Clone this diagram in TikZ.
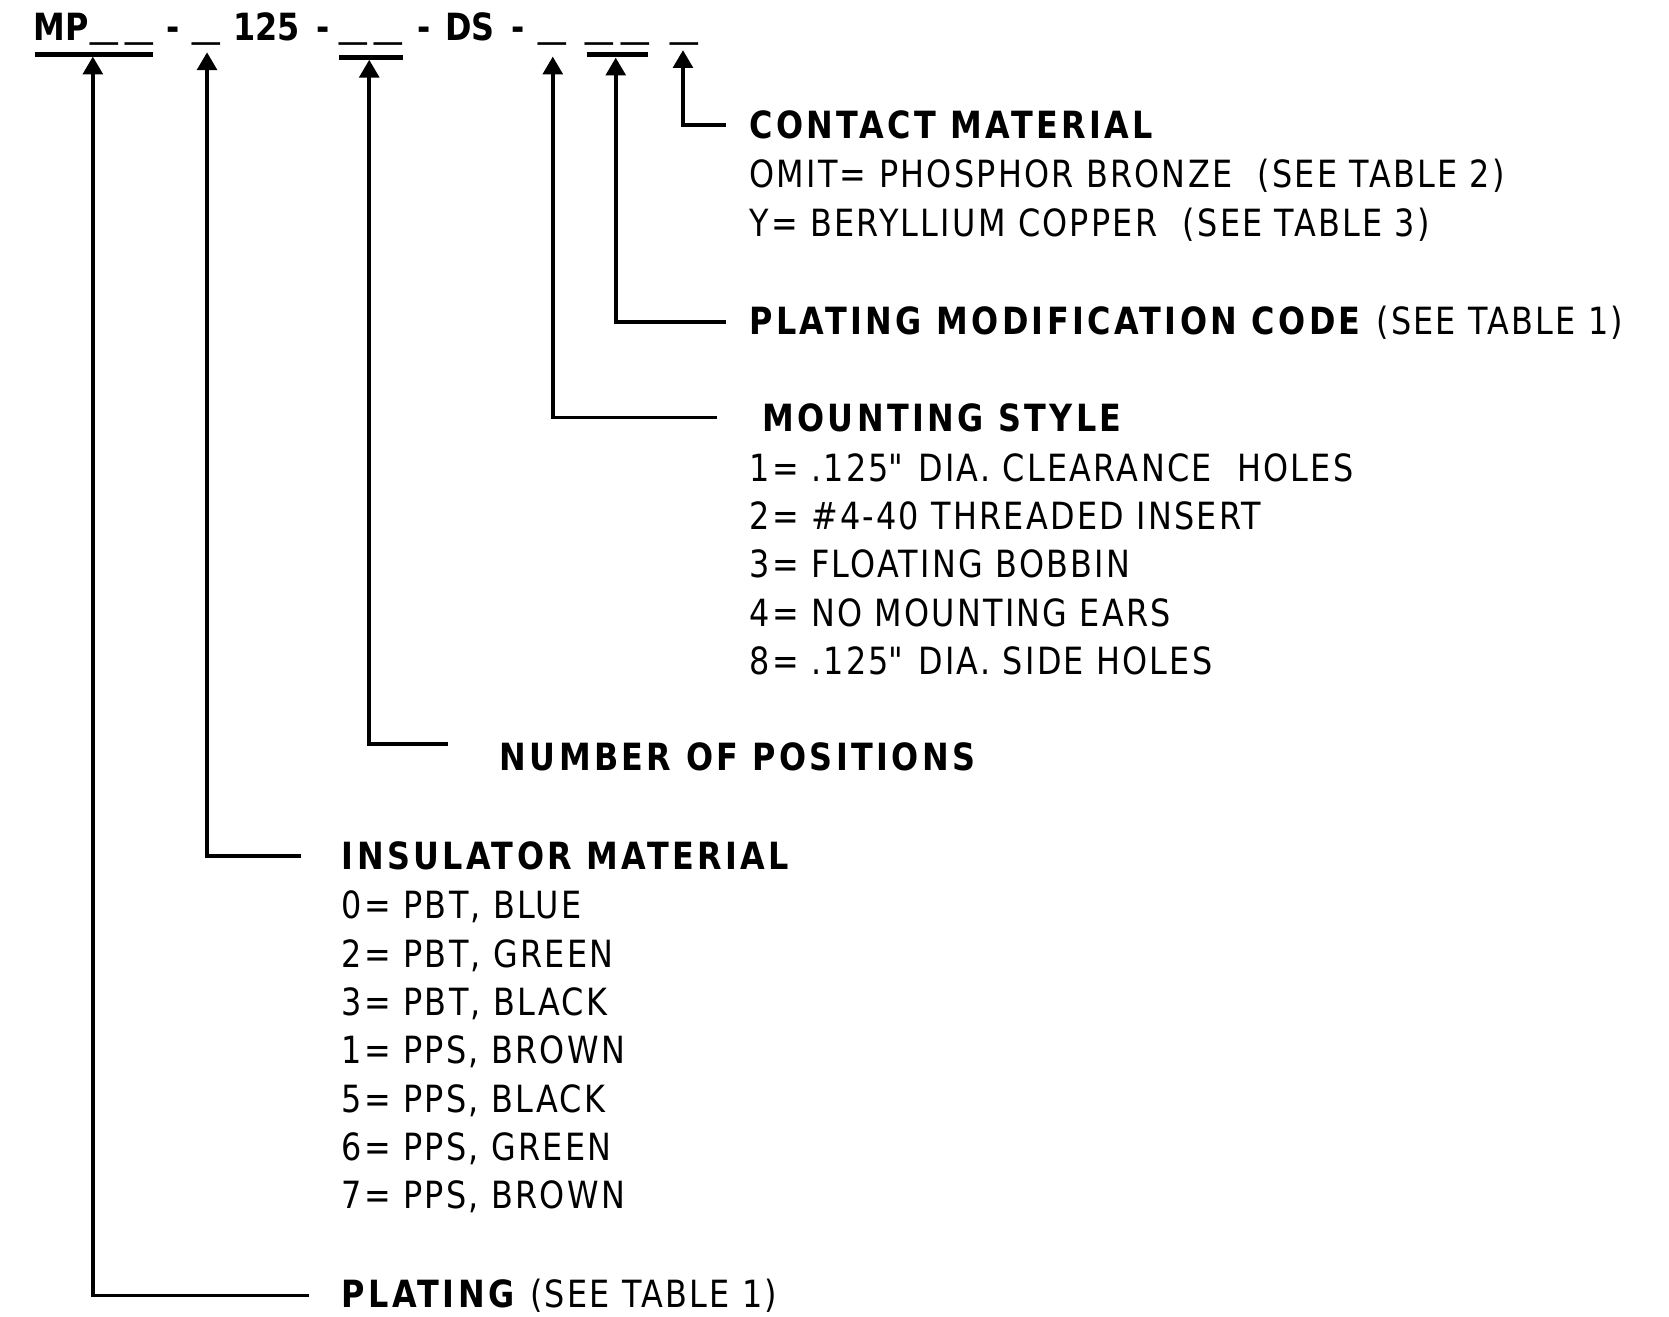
\documentclass[tikz,border=0pt]{standalone}
\usepackage{fontspec}
\setmainfont{DejaVu Sans}[FakeStretch=0.85, LetterSpace=6, BoldFeatures={LetterSpace=9}]
\newfontfamily\codefont{DejaVu Sans}[FakeStretch=0.85]
\usetikzlibrary{arrows.meta}

\begin{document}
\begin{tikzpicture}[x=0.02cm, y=-0.02cm,
    txt/.style={anchor=base west, inner sep=0pt, font=\fontsize{20}{26}\selectfont},
    head/.style={txt, font=\fontsize{20}{26}\selectfont\bfseries},
    code/.style={txt, font=\fontsize{20}{26}\selectfont\codefont\bfseries},
    blank/.style={txt, font=\fontsize{20}{26}\selectfont\codefont},
    lead/.style={-{Triangle[width=10.5pt,length=9.5pt]}, line width=2pt},
    bar/.style={line width=2.4pt}]
  \useasboundingbox (0,0) rectangle (1564,1234);

  % part number
  \newcommand\blankmark{\raisebox{2pt}{\scalebox{1.73}[1]{\_}}}
  \node[code] (CodeMP) at (31,38) {MP};
  \node[blank] (CodeU1) at (84,38) {\blankmark};
  \node[blank] (CodeU2) at (117,38) {\blankmark};
  \node[code] (CodeD1) at (156,38) {-};
  \node[blank] (CodeU3) at (180,38) {\blankmark};
  \node[code] (Code125) at (218,38) {125};
  \node[code] (CodeD2) at (296,38) {-};
  \node[blank] (CodeU4) at (318,38) {\blankmark};
  \node[blank] (CodeU5) at (351,38) {\blankmark};
  \node[code] (CodeD3) at (391,38) {-};
  \node[code] (CodeDS) at (417,38) {DS};
  \node[code] (CodeD4) at (479,38) {-};
  \node[blank] (CodeU6) at (504,38) {\blankmark};
  \node[blank] (CodeU7) at (548,38) {\blankmark};
  \node[blank] (CodeU8) at (582,38) {\blankmark};
  \node[blank] (CodeU9) at (628,38) {\blankmark};

  \draw[bar] (33,51) -- (143,51);
  \draw[bar] (318,54) -- (378,54);
  \draw[bar] (550,51) -- (607,51);

  \coordinate (TipPlat) at (87,53);
  \coordinate (TipInsul) at (194,49);
  \coordinate (TipPos) at (346,56);
  \coordinate (TipMount) at (518,53);
  \coordinate (TipPlatMod) at (577,54);
  \coordinate (TipContact) at (640,47);

  % contact material
  \node[head] (ContactHead) at (702,130) {CONTACT MATERIAL};
  \foreach \t [count=\i from 0] in {{OMIT= PHOSPHOR BRONZE\hspace{0.35em} (SEE TABLE 2)},
      {Y= BERYLLIUM COPPER\hspace{0.35em} (SEE TABLE 3)}}
    \node[txt] (Contact\i) at (702,176+46*\i) {\t};

  % plating modification
  \node[txt] (PlatModHead) at (702,313) {\textbf{PLATING MODIFICATION CODE} (SEE TABLE 1)};

  % mounting style
  \node[head] (MountHead) at (714,404) {MOUNTING STYLE};
  \foreach \t [count=\i from 0] in {{1= .125\textquotedbl{} DIA. CLEARANCE\hspace{0.35em} HOLES},
      {2= \#4-40 THREADED INSERT}, {3= FLOATING BOBBIN},
      {4= NO MOUNTING EARS}, {8= .125\textquotedbl{} DIA. SIDE HOLES}}
    \node[txt] (Mount\i) at (702,451+45.3*\i) {\t};

  % number of positions
  \node[head] (PosHead) at (468,722) {NUMBER OF POSITIONS};

  % insulator material
  \node[head] (InsulHead) at (320,815) {INSULATOR MATERIAL};
  \foreach \t [count=\i from 0] in {{0= PBT, BLUE}, {2= PBT, GREEN}, {3= PBT, BLACK},
      {1= PPS, BROWN}, {5= PPS, BLACK}, {6= PPS, GREEN}, {7= PPS, BROWN}}
    \node[txt] (Insul\i) at (320,861+45.3*\i) {\t};

  % plating
  \node[txt] (PlatHead) at (320,1225) {\textbf{PLATING} (SEE TABLE 1)};

  % leads
  \draw[lead, shorten <=0.44cm] (ContactHead.west) -| (TipContact);
  \draw[lead, shorten <=0.44cm] (PlatModHead.west) -| (TipPlatMod);
  \draw[lead, shorten <=0.84cm] (MountHead.west) -| (TipMount);
  \draw[lead, shorten <=0.96cm] ([yshift=0.24cm]PosHead.west) -| (TipPos);
  \draw[lead, shorten <=0.76cm] (InsulHead.west) -| (TipInsul);
  \draw[lead, shorten <=0.6cm] (PlatHead.west) -| (TipPlat);
\end{tikzpicture}
\end{document}
